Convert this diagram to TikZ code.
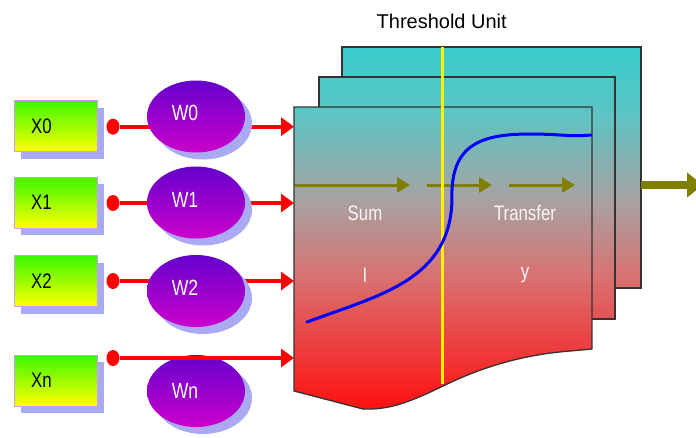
\documentclass[tikz,border=0pt]{standalone}
\usepackage{fontspec}
\setmainfont{Liberation Sans}[FakeStretch=0.8]
\newfontfamily\titlefont{Liberation Sans}
\usetikzlibrary{arrows.meta,shapes.geometric,shadows,calc}
\definecolor{lav}{HTML}{AAAAF2}
\definecolor{xborder}{HTML}{CC99FF}
\definecolor{xtop}{HTML}{3CF800}
\definecolor{xbot}{HTML}{FFFF00}
\definecolor{wtop}{HTML}{6600CC}
\definecolor{wbot}{HTML}{CC00CC}
\definecolor{olive1}{HTML}{808000}
\definecolor{pr}{HTML}{FF1010}
\definecolor{pp}{HTML}{D87272}
\definecolor{pg}{HTML}{A8A2A2}
\definecolor{pt2}{HTML}{5CC4C4}
\definecolor{pt}{HTML}{3ACCCC}
\definecolor{pline}{HTML}{333333}
\pgfdeclareverticalshading{panelshade}{100bp}{color(0bp)=(pr); color(25bp)=(pr); color(43.5bp)=(pp); color(54bp)=(pg); color(66bp)=(pt2); color(75bp)=(pt); color(100bp)=(pt)}
\tikzset{
  xbox/.style={rectangle, minimum width=83pt, minimum height=51pt, draw=xborder, line width=1pt,
    top color=xtop, bottom color=xbot, inner sep=0pt,
    general shadow={shadow xshift=7pt, shadow yshift=-7pt, fill=lav}},
  xtext/.style={font=\fontsize{21}{23}\selectfont, text=black},
  wnode/.style={ellipse, minimum width=98pt, minimum height=72pt, inner sep=0pt,
    top color=wtop, bottom color=wbot,
    general shadow={shadow xshift=7pt, shadow yshift=-7pt, fill=lav}},
  wtext/.style={font=\fontsize{22}{24}\selectfont, text=white},
  rdot/.style={ellipse, fill=red, minimum width=13pt, minimum height=16pt, inner sep=0pt},
  rarrow/.style={draw=red, line width=4pt, -{Triangle[length=13pt,width=18pt]}},
  oarrow/.style={draw=olive1, line width=3pt, -{Triangle[length=13pt,width=15pt]}},
  oout/.style={draw=olive1, line width=8pt, -{Triangle[length=16pt,width=24pt]}},
  pborder/.style={draw=pline, line width=1.3pt},
  ptext/.style={font=\fontsize{21}{23}\selectfont, text=white!94!gray},
  ttext/.style={font=\titlefont\fontsize{20}{22}\selectfont, text=black}
}
\begin{document}
\begin{tikzpicture}[x=1pt,y=-1pt]
\useasboundingbox (0,0) rectangle (696,437);
\fill[white] (0,0) rectangle (696,437);

% back panels
\begin{scope}
  \clip (342,47) rectangle (641,288);
  \shade[shading=panelshade] (294,47) rectangle (641,409);
\end{scope}
\draw[pborder] (342,47) rectangle (641,288);
\begin{scope}
  \clip (319,77) rectangle (615,319);
  \shade[shading=panelshade] (294,47) rectangle (641,409);
\end{scope}
\draw[pborder] (319,77) rectangle (615,319);
% front panel
\begin{scope}
  \clip (294,107) -- (592,107) -- (592,349) -- (570,351) .. controls (520,355) and (480,368) .. (443,386) .. controls (410,402) and (390,410) .. (363,409) -- (294,391) -- cycle;
  \shade[shading=panelshade] (294,47) rectangle (641,409);
\end{scope}
\draw[pborder] (294,107) -- (592,107) -- (592,349) -- (570,351) .. controls (520,355) and (480,368) .. (443,386) .. controls (410,402) and (390,410) .. (363,409) -- (294,391) -- cycle;

% olive arrows
\coordinate (a1s) at (295,185);
\coordinate (a1e) at (410,185);
\coordinate (a2s) at (427,185);
\coordinate (a2e) at (492,185);
\coordinate (a3s) at (509,185);
\coordinate (a3e) at (575,185);
\coordinate (outs) at (641,185);
\coordinate (oute) at (703,185);
\draw[oarrow] (a1s) -- (a1e);
\draw[oarrow] (a2s) -- (a2e);
\draw[oarrow] (a3s) -- (a3e);
\draw[oout] (outs) -- (oute);

% yellow threshold line
\coordinate (yt) at (442.7,47);
\coordinate (yb) at (442.7,384);
\draw[yellow, line width=3pt] (yt) -- (yb);

% blue transfer curve
\draw[blue, line width=3pt, line cap=round] (307,322) .. controls (380,295) and (450,280) .. (452,200) .. controls (450,145) and (480,134) .. (530,134) .. controls (560,134) and (570,137) .. (591,135);

% panel texts
\node[ttext] (title) at (441.7,21) {Threshold Unit};
\node[ptext] (sum) at (365,213) {Sum};
\node[ptext] (transfer) at (525,213) {Transfer};
\node[ptext] (ilab) at (365,275) {I};
\node[ptext] (ylab) at (525,275) {y};

% inputs
\node[xbox, label={[xtext, xshift=-14pt]center:X0}] (x0) at (55.5,126) {};
\node[xbox, label={[xtext, xshift=-14pt]center:X1}] (x1) at (55.5,202.5) {};
\node[xbox, label={[xtext, xshift=-14pt]center:X2}] (x2) at (55.5,281) {};
\node[xbox, label={[xtext, xshift=-14pt]center:Xn}] (xn) at (55.5,380.5) {};

% dots
\node[rdot] (d0) at (113,126.7) {};
\node[rdot] (d1) at (113,203) {};
\node[rdot] (d2) at (113,281) {};
\node[rdot] (dn) at (113,358) {};

\coordinate (in0) at (294,126.7);
\coordinate (in1) at (294,203);
\coordinate (in2) at (294,281);
\coordinate (inn) at (294,358);

\draw[rarrow] (d0) -- (in0);
\draw[rarrow] (d1) -- (in1);
\draw[rarrow] (d2) -- (in2);

% weights
\node[wnode, label={[wtext, xshift=-11pt, yshift=4pt]center:W0}] (w0) at (196,116.5) {};
\node[wnode, label={[wtext, xshift=-11pt, yshift=3pt]center:W1}] (w1) at (196,202.5) {};
\node[wnode, label={[wtext, xshift=-11pt, yshift=3pt]center:W2}] (w2) at (196,291) {};
\node[wnode, label={[wtext, xshift=-11pt, yshift=0pt]center:Wn}] (wn) at (196,391) {};

\draw[rarrow] (dn) -- (inn);
\end{tikzpicture}
\end{document}
